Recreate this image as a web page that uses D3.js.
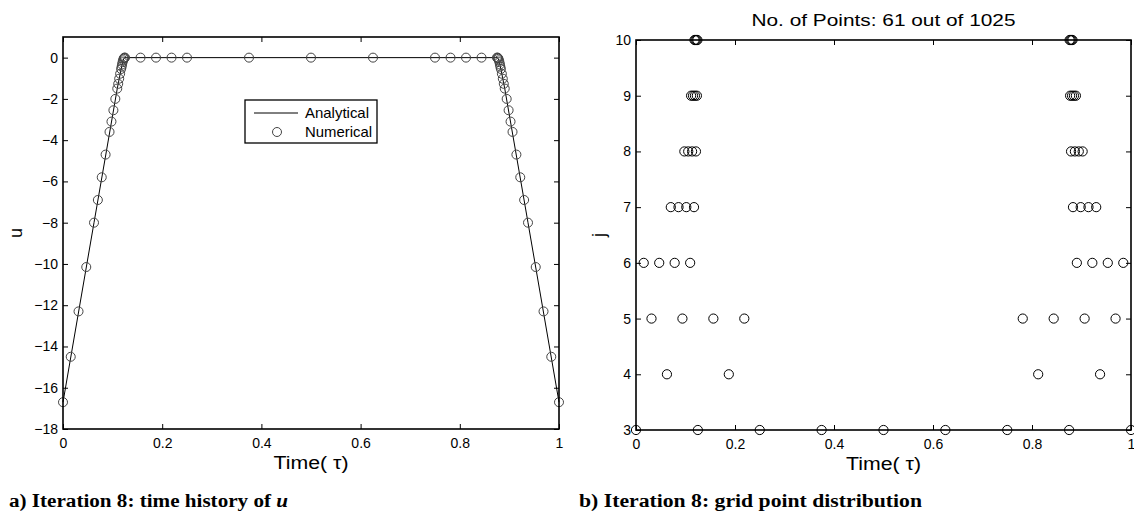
<!DOCTYPE html>
<html>
<head>
<meta charset="utf-8">
<script src="https://cdn.jsdelivr.net/npm/d3@7"></script>
<style>
  html, body { margin: 0; padding: 0; background: #fff; }
  svg { display: block; }
  text { font-family: "Liberation Sans", Arial, Helvetica, sans-serif; fill: #000; }
  .cap { font-family: "Liberation Serif", "Times New Roman", serif; font-weight: bold; }
</style>
</head>
<body>
<svg id="chart" width="1134" height="521"></svg>
<script>
// ---------------- DATA ----------------
// grid points (time tau), their wavelet level j, and numerical u
const gridT = [
  0, 0.0156, 0.0313, 0.0469, 0.0625, 0.0703, 0.0781, 0.0859, 0.0938, 0.0977,
  0.1016, 0.1055, 0.1094, 0.1113, 0.1133, 0.1152, 0.1172, 0.1182, 0.1191, 0.1201,
  0.1211, 0.1221, 0.1230, 0.1240, 0.125,
  0.1563, 0.1875, 0.2188, 0.25, 0.375, 0.5, 0.625, 0.75, 0.7813, 0.8125, 0.8438,
  0.875, 0.8760, 0.8770, 0.8779, 0.8789, 0.8799, 0.8809, 0.8818, 0.8828, 0.8848,
  0.8867, 0.8887, 0.8906, 0.8945, 0.8984, 0.9023, 0.9063, 0.9141, 0.9219, 0.9297,
  0.9375, 0.9531, 0.9688, 0.9844, 1
];
const gridJ = [
  3, 6, 5, 6, 4, 7, 6, 7, 5, 8,
  7, 8, 6, 9, 8, 9, 7, 10, 9, 10,
  8, 10, 9, 10, 3,
  5, 4, 5, 3, 3, 3, 3, 3, 5, 4, 5,
  3, 10, 9, 10, 8, 10, 9, 10, 7, 9,
  8, 9, 6, 8, 7, 8, 5, 7, 6, 7,
  4, 6, 5, 6, 3
];
const numericalU = [
  -16.7, -14.5, -12.3, -10.15, -8.0, -6.9, -5.8, -4.7, -3.6, -3.1,
  -2.55, -2.0, -1.5, -1.27, -1.02, -0.78, -0.55, -0.44, -0.33, -0.22,
  -0.13, -0.06, -0.02, 0, 0,
  0, 0, 0, 0, 0, 0, 0, 0, 0, 0, 0,
  0, 0, -0.02, -0.06, -0.13, -0.22, -0.33, -0.44, -0.55, -0.78,
  -1.02, -1.27, -1.5, -2.0, -2.55, -3.1, -3.6, -4.7, -5.8, -6.9,
  -8.0, -10.15, -12.3, -14.5, -16.7
];
// analytical solution knots
const analyticalT = [0, 0.0625, 0.1094, 0.1172, 0.1211, 0.1240, 0.8760, 0.8789, 0.8828, 0.8906, 0.9375, 1];
const analyticalU = [-16.7, -8.0, -1.5, -0.55, -0.13, 0, 0, -0.13, -0.55, -1.5, -8.0, -16.7];

const xTicks = [0, 0.2, 0.4, 0.6, 0.8, 1];
const uTicks = [-18, -16, -14, -12, -10, -8, -6, -4, -2, 0];
const jTicks = [3, 4, 5, 6, 7, 8, 9, 10];

const legendLabels = ["Analytical", "Numerical"];
const titleRight = "No. of Points: 61 out of 1025";
const captionA = "a) Iteration 8: time history of ";
const captionB = "b) Iteration 8: grid point distribution";

// ---------------- DRAW ----------------
const svg = d3.select("#chart");
const fmtX = d => (d === 0 || d === 1) ? String(d) : d3.format(".1f")(d);

function frame(g, x, y, xt, yt, yfmt) {
  const [x0, x1] = x.range();
  const [y0, y1] = y.range();
  const tk = 5;
  const ax = g.append("g").attr("transform", `translate(0,${y0})`)
    .call(d3.axisBottom(x).tickValues(xt).tickSize(-tk).tickPadding(9).tickFormat(fmtX));
  const at = g.append("g").attr("transform", `translate(0,${y1})`)
    .call(d3.axisTop(x).tickValues(xt).tickSize(-tk).tickFormat(""));
  const al = g.append("g").attr("transform", `translate(${x0},0)`)
    .call(d3.axisLeft(y).tickValues(yt).tickSize(-tk).tickPadding(5).tickFormat(yfmt));
  const ar = g.append("g").attr("transform", `translate(${x1},0)`)
    .call(d3.axisRight(y).tickValues(yt).tickSize(-tk).tickFormat(""));
  [ax, at, al, ar].forEach(a => {
    a.select(".domain").remove();
    a.selectAll(".tick line").attr("stroke", "#000").attr("stroke-width", 1);
    a.selectAll("text").style("font-family", '"Liberation Sans", Arial, sans-serif')
      .style("font-size", "14px").attr("fill", "#000");
  });
  return g;
}
function box(g, x, y) {
  const [x0, x1] = x.range();
  const [y0, y1] = y.range();
  g.append("rect").attr("x", x0).attr("y", y1).attr("width", x1 - x0).attr("height", y0 - y1)
    .attr("fill", "none").attr("stroke", "#000").attr("stroke-width", 1.6);
}

// ---- Left panel ----
const xL = d3.scaleLinear().domain([0, 1]).range([63, 559]);
const yL = d3.scaleLinear().domain([-18, 1]).range([429, 37]);
const gL = svg.append("g");
frame(gL, xL, yL, xTicks, uTicks, d3.format("d"));

const anaData = analyticalT.map((t, i) => [t, analyticalU[i]]);
gL.append("path").datum(anaData)
  .attr("d", d3.line().x(d => xL(d[0])).y(d => yL(d[1])))
  .attr("fill", "none").attr("stroke", "#000").attr("stroke-width", 1);

gL.append("g").selectAll("circle").data(gridT.map((t, i) => [t, numericalU[i]]))
  .join("circle")
  .attr("cx", d => xL(d[0])).attr("cy", d => yL(d[1])).attr("r", 4.5)
  .attr("fill", "none").attr("stroke", "#444").attr("stroke-width", 1);
box(gL, xL, yL);

gL.append("text").attr("x", (63 + 559) / 2).attr("y", 469).attr("text-anchor", "middle")
  .attr("textLength", 75).attr("lengthAdjust", "spacingAndGlyphs")
  .style("font-size", "18px").text("Time( τ)");
gL.append("text").attr("transform", "translate(22,233) rotate(-90)").attr("text-anchor", "middle")
  .style("font-size", "18px").text("u");

// legend
const lg = gL.append("g");
lg.append("rect").attr("x", 245).attr("y", 100).attr("width", 132).attr("height", 43)
  .attr("fill", "#fff").attr("stroke", "#000").attr("stroke-width", 1.3);
lg.append("line").attr("x1", 254).attr("x2", 298).attr("y1", 113).attr("y2", 113)
  .attr("stroke", "#000").attr("stroke-width", 1);
lg.append("circle").attr("cx", 277).attr("cy", 132).attr("r", 4.5)
  .attr("fill", "none").attr("stroke", "#444").attr("stroke-width", 1);
lg.selectAll("text.lab").data(legendLabels).join("text").attr("class", "lab")
  .attr("x", 305).attr("y", (d, i) => 118 + i * 19)
  .attr("textLength", (d, i) => i === 0 ? 64 : 67).attr("lengthAdjust", "spacingAndGlyphs")
  .style("font-size", "14.5px").text(d => d);

// ---- Right panel ----
const xR = d3.scaleLinear().domain([0, 1]).range([636, 1131]);
const yR = d3.scaleLinear().domain([3, 10]).range([430, 40]);
const gR = svg.append("g");
frame(gR, xR, yR, xTicks, jTicks, d3.format("d"));
box(gR, xR, yR);
gR.append("g").selectAll("circle").data(gridT.map((t, i) => [t, gridJ[i]]))
  .join("circle")
  .attr("cx", d => xR(d[0])).attr("cy", d => yR(d[1])).attr("r", 4.6)
  .attr("fill", "none").attr("stroke", "#000").attr("stroke-width", 1);

gR.append("text").attr("x", (636 + 1131) / 2).attr("y", 470).attr("text-anchor", "middle")
  .attr("textLength", 75).attr("lengthAdjust", "spacingAndGlyphs")
  .style("font-size", "18px").text("Time( τ)");
gR.append("text").attr("transform", "translate(605,235) rotate(-90)").attr("text-anchor", "middle")
  .style("font-size", "18px").text("j");
gR.append("text").attr("x", (636 + 1131) / 2).attr("y", 26).attr("text-anchor", "middle")
  .attr("textLength", 264).attr("lengthAdjust", "spacingAndGlyphs")
  .style("font-size", "17px").text(titleRight);

// ---- Captions ----
const ca = svg.append("text").attr("class", "cap").attr("x", 9).attr("y", 507)
  .attr("textLength", 279).attr("lengthAdjust", "spacingAndGlyphs").style("font-size", "18px");
ca.append("tspan").text(captionA);
ca.append("tspan").style("font-style", "italic").text("u");
svg.append("text").attr("class", "cap").attr("x", 579).attr("y", 507)
  .attr("textLength", 343).attr("lengthAdjust", "spacingAndGlyphs")
  .style("font-size", "18px").text(captionB);
</script>
</body>
</html>
